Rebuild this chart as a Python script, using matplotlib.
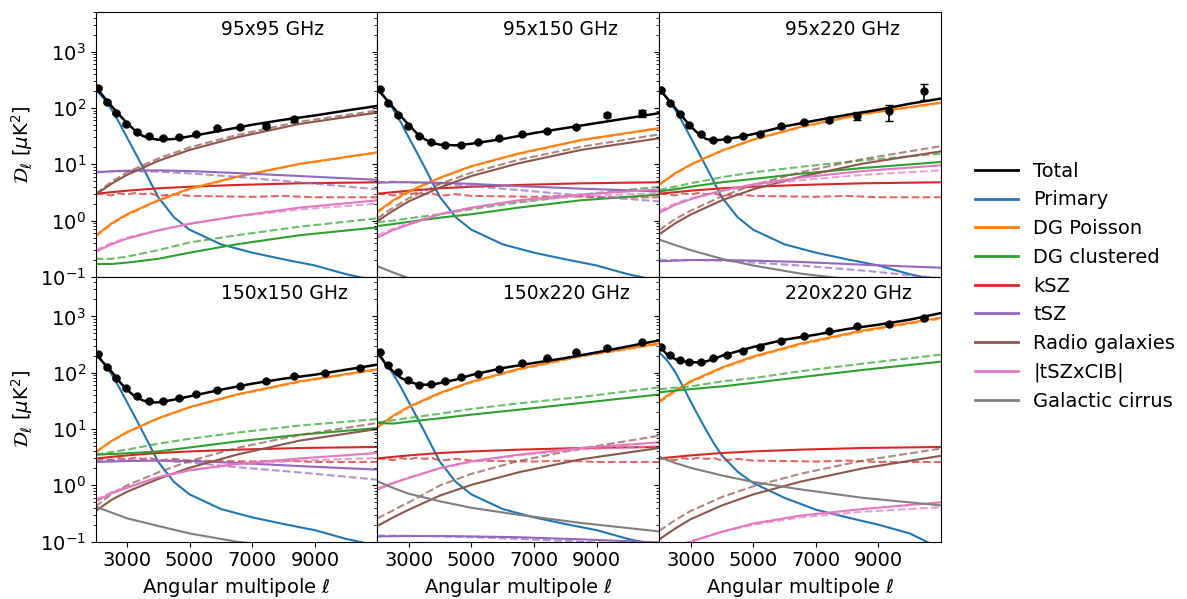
import matplotlib.pyplot as plt

# multipole grids the curves were read on
ell_fine = [2000, 2250, 2500, 2750, 3000, 3250, 3500, 3750, 4000, 4500, 5000,
            6000, 7000, 8000, 9000, 10000, 11000]
ell_model = [2000, 2500, 3000, 4000, 5000, 6500, 8500, 11000]
ell_bins = [2070, 2350, 2650, 2960, 3330, 3710, 4160, 4670, 5220, 5890,
            6620, 7430, 8330, 9330, 10450]

# components shared by the spectra (CMB units)
primary = [210, 150, 95, 55, 30, 16.5, 9.0, 4.8, 2.6, 1.15, 0.69,
           0.38, 0.27, 0.206, 0.16, 0.112, 0.085]
primary_220x220 = [230, 165, 105, 58, 31, 17, 9.5, 5.5, 3.4, 1.75, 1.1,
                   0.6, 0.37, 0.27, 0.2, 0.14, 0.075]
ksz = [3.0, 3.2, 3.4, 3.75, 4.0, 4.3, 4.6, 4.8]
ksz_alt = [3.0, 2.95, 2.8, 3.05, 2.9, 3.1, 2.95, 3.05, 2.75, 2.95, 2.75,
           2.7, 2.65, 2.75, 2.6, 2.6, 2.6]

# ---- 95x95 ----
total_95x95 = [234, 160, 109, 76, 54, 40, 32, 28.8, 27.3, 28.1, 31.3,
               39.5, 50.4, 61.7, 73.6, 90, 109]
data_95x95 = [224, 130, 81, 52.5, 36.8, 31.3, 28.9, 30.5, 34.9, 43.4, 45.2, 48.3, 63.4]
err_95x95 = [8, 5, 3, 2, 1.5, 1.2, 1.2, 1.3, 1.5, 2, 2.5, 4, 6]
poisson_95x95 = [0.54, 0.89, 1.3, 2.3, 3.7, 6.0, 10.2, 16.3]
poisson_95x95_alt = [0.52, 0.86, 1.25, 2.25, 3.6, 5.9, 10.0, 16.0]
clust_95x95 = [0.17, 0.17, 0.18, 0.21, 0.27, 0.38, 0.55, 0.76]
clust_95x95_alt = [0.21, 0.21, 0.23, 0.30, 0.41, 0.55, 0.78, 1.1]
tsz_95x95 = [7.2, 7.5, 7.7, 7.8, 7.6, 7.0, 6.2, 5.3]
tsz_95x95_alt = [7.3, 7.5, 7.6, 7.4, 6.9, 6.0, 4.8, 3.6]
radio_95x95 = [2.9, 4.5, 6.5, 11.5, 18, 30, 52, 83]
radio_95x95_alt = [3.0, 4.9, 7.2, 12.7, 20, 33, 57, 90]
cib_95x95 = [0.28, 0.38, 0.48, 0.67, 0.88, 1.2, 1.7, 2.3]
cib_95x95_alt = [0.3, 0.4, 0.5, 0.68, 0.88, 1.18, 1.58, 2.0]

# ---- 95x150 ----
total_95x150 = [224, 149, 103, 70.8, 50.4, 35.9, 28.1, 23.9, 22.3, 21.7, 23.2,
                28.1, 35.9, 44, 54, 66, 81]
data_95x150 = [215, 122, 75.7, 47.1, 32.2, 24.5, 22.3, 22.3, 24.8, 28.8,
               34.9, 39.5, 45.8, 75.7, 81]
err_95x150 = [8, 4, 2.5, 1.5, 1, 0.8, 0.7, 0.7, 0.8, 1, 1.3, 1.7, 2.5, 6, 12]
poisson_95x150 = [1.45, 2.3, 3.3, 5.8, 9.3, 15.5, 27, 44]
poisson_95x150_alt = [1.4, 2.2, 3.2, 5.7, 9.1, 15.2, 26.5, 43]
clust_95x150 = [0.8, 0.87, 0.95, 1.13, 1.3, 1.7, 2.3, 2.9]
clust_95x150_alt = [0.94, 1.0, 1.1, 1.3, 1.6, 2.1, 2.9, 4.0]
tsz_95x150 = [4.7, 4.8, 4.8, 4.7, 4.5, 4.1, 3.7, 3.3]
tsz_95x150_alt = [4.9, 4.9, 4.8, 4.5, 4.1, 3.5, 2.8, 2.2]
radio_95x150 = [0.98, 1.5, 2.2, 3.9, 6.2, 10.4, 18, 29]
radio_95x150_alt = [1.1, 1.7, 2.5, 4.5, 7.1, 12, 20.5, 34]
cib_95x150 = [0.5, 0.68, 0.85, 1.3, 1.7, 2.3, 2.9, 3.6]
cib_95x150_alt = [0.55, 0.72, 0.9, 1.32, 1.7, 2.2, 2.7, 3.1]
cirrus_95x150 = [0.155, 0.12, 0.095, 0.065, 0.05, 0.035, 0.025, 0.02]

# ---- 95x220 ----
total_95x220 = [224, 149, 101, 68.9, 47.1, 34.9, 28.1, 26.6, 27.3, 30.1, 34.4,
                47.1, 60.1, 75.7, 93, 119, 147]
data_95x220 = [210, 122, 78.9, 50.4, 34.4, 27.3, 28.1, 31.3, 34.9, 47.1,
               55.4, 61.7, 72.6, 86.7, 204]
err_95x220 = [8, 4, 2.5, 1.8, 1.2, 1, 1, 1.2, 1.5, 2.5, 4, 5.5, 12.5, 28, 64]
poisson_95x220 = [4.4, 6.9, 9.9, 17.6, 27.5, 46, 79, 125]
poisson_95x220_alt = [4.3, 6.7, 9.7, 17.2, 27, 45, 77, 122]
clust_95x220 = [3.3, 3.6, 4.0, 4.8, 5.5, 6.8, 8.6, 11]
clust_95x220_alt = [3.5, 4.0, 4.6, 5.9, 7.2, 9.0, 11.8, 15.5]
tsz_95x220 = [0.19, 0.195, 0.2, 0.2, 0.195, 0.185, 0.165, 0.146]
tsz_95x220_alt = [0.2, 0.2, 0.2, 0.195, 0.18, 0.16, 0.13, 0.095]
radio_95x220 = [0.57, 0.89, 1.28, 2.3, 3.6, 6.0, 10.3, 17]
radio_95x220_alt = [0.68, 1.06, 1.5, 2.7, 4.3, 7.2, 12.4, 21]
cib_95x220 = [1.38, 1.9, 2.4, 3.4, 4.4, 5.8, 7.6, 9.6]
cib_95x220_alt = [1.5, 2.0, 2.5, 3.4, 4.2, 5.2, 6.5, 7.8]
cirrus_95x220 = [0.46, 0.37, 0.3, 0.21, 0.16, 0.115, 0.085, 0.06]

# ---- 150x150 ----
total_150x150 = [223, 149, 106, 70.2, 49.9, 38, 32.3, 29.7, 29.7, 33.2, 38,
                 49.9, 63.8, 78.2, 92.1, 113, 139]
data_150x150 = [217, 126, 80.4, 53.5, 38, 31.8, 31.8, 35.5, 42.3, 48.6,
                57.1, 70.2, 88.4, 98.6, 121]
err_150x150 = [6, 3, 2, 1.3, 0.9, 0.7, 0.7, 0.8, 1, 1.2, 1.5, 2, 2.5, 3.5, 5]
poisson_150x150 = [3.9, 6.1, 8.8, 15.6, 24.5, 41, 70, 115]
poisson_150x150_alt = [3.8, 6.0, 8.6, 15.3, 24, 40, 68, 112]
clust_150x150 = [3.5, 3.6, 3.7, 4.0, 4.7, 6.0, 7.9, 10.4]
clust_150x150_alt = [3.5, 3.9, 4.3, 5.5, 6.7, 8.6, 11.5, 15]
tsz_150x150 = [2.6, 2.65, 2.7, 2.75, 2.7, 2.5, 2.2, 1.9]
tsz_150x150_alt = [2.75, 2.8, 2.8, 2.75, 2.55, 2.1, 1.7, 1.26]
radio_150x150 = [0.35, 0.55, 0.77, 1.3, 2.05, 3.5, 6.2, 10]
radio_150x150_alt = [0.42, 0.7, 1.0, 1.7, 2.7, 4.6, 7.8, 12.8]
cib_150x150 = [0.52, 0.72, 0.9, 1.4, 1.85, 2.4, 3.0, 3.75]
cib_150x150_alt = [0.56, 0.75, 0.93, 1.4, 1.85, 2.35, 2.75, 3.05]
cirrus_150x150 = [0.42, 0.33, 0.26, 0.19, 0.14, 0.1, 0.075, 0.055]

# ---- 150x220 ----
total_150x220 = [239, 144, 106, 80.4, 70.2, 62.9, 61.2, 61.2, 65.6, 75.2, 91,
                 121, 149, 182, 229, 293, 375]
data_150x220 = [229, 139, 101, 75.2, 61.2, 62.9, 72.1, 82.6, 96, 116,
                149, 182, 229, 274, 345]
err_150x220 = [6, 3, 2, 1.5, 1.2, 1.2, 1.4, 1.6, 2, 2.5, 3, 4, 5, 7, 10]
poisson_150x220 = [11, 17.2, 24.8, 44, 69, 116, 199, 330]
poisson_150x220_alt = [10.6, 16.6, 24, 42.5, 67, 112, 193, 320]
clust_150x220 = [12.8, 12.5, 13.5, 15.5, 18, 22, 29, 41]
clust_150x220_alt = [13.1, 14.3, 15.7, 18.7, 22.7, 28.5, 37, 55]
tsz_150x220 = [0.124, 0.125, 0.126, 0.126, 0.124, 0.12, 0.11, 0.097]
tsz_150x220_alt = [0.128, 0.128, 0.127, 0.124, 0.12, 0.112, 0.1, 0.085]
radio_150x220 = [0.19, 0.27, 0.37, 0.66, 1.02, 1.7, 2.9, 4.6]
radio_150x220_alt = [0.26, 0.36, 0.5, 1.0, 1.6, 2.7, 4.5, 7.6]
cib_150x220 = [0.84, 1.1, 1.35, 2.03, 2.67, 3.5, 4.6, 5.8]
cib_150x220_alt = [0.88, 1.1, 1.38, 2.0, 2.6, 3.4, 4.3, 5.0]
cirrus_150x220 = [1.18, 0.9, 0.71, 0.52, 0.40, 0.30, 0.215, 0.152]

# ---- 220x220 ----
total_220x220 = [301, 209, 175, 159, 153, 153, 159, 175, 200, 239, 286,
                 385, 473, 596, 711, 873, 1146]
data_220x220 = [286, 209, 170, 155, 155, 182, 203, 246, 286, 360,
                442, 542, 664, 731, 934]
err_220x220 = [8, 5, 4, 3.5, 3.5, 4, 4.5, 5, 6, 8, 10, 12, 15, 18, 25]
poisson_220x220 = [31, 48, 70, 124, 194, 327, 560, 950]
poisson_220x220_alt = [29.5, 46, 67, 119, 186, 314, 538, 910]
clust_220x220 = [44.8, 48, 51, 57, 66, 83, 112, 157]
clust_220x220_alt = [51, 54, 57, 70, 80, 106, 145, 209]
radio_220x220 = [0.11, 0.17, 0.25, 0.44, 0.69, 1.16, 2.0, 3.35]
radio_220x220_alt = [0.155, 0.24, 0.35, 0.62, 0.96, 1.6, 2.75, 4.5]
cib_220x220 = [0.07, 0.085, 0.1, 0.15, 0.21, 0.29, 0.38, 0.5]
cib_220x220_alt = [0.07, 0.085, 0.1, 0.15, 0.2, 0.27, 0.34, 0.41]
cirrus_220x220 = [3.2, 2.5, 2.05, 1.5, 1.15, 0.85, 0.6, 0.44]

labels = ["Total", "Primary", "DG Poisson", "DG clustered", "kSZ", "tSZ",
          "Radio galaxies", "|tSZxCIB|", "Galactic cirrus"]
colors = ["black", "C0", "C1", "C2", "C3", "C4", "C5", "C6", "C7"]

panels = [
    ("95x95 GHz", primary, total_95x95, data_95x95, err_95x95,
     [(poisson_95x95, poisson_95x95_alt, "C1"), (clust_95x95, clust_95x95_alt, "C2"),
      (tsz_95x95, tsz_95x95_alt, "C4"), (radio_95x95, radio_95x95_alt, "C5"),
      (cib_95x95, cib_95x95_alt, "C6")]),
    ("95x150 GHz", primary, total_95x150, data_95x150, err_95x150,
     [(poisson_95x150, poisson_95x150_alt, "C1"), (clust_95x150, clust_95x150_alt, "C2"),
      (tsz_95x150, tsz_95x150_alt, "C4"), (radio_95x150, radio_95x150_alt, "C5"),
      (cib_95x150, cib_95x150_alt, "C6"), (cirrus_95x150, None, "C7")]),
    ("95x220 GHz", primary, total_95x220, data_95x220, err_95x220,
     [(poisson_95x220, poisson_95x220_alt, "C1"), (clust_95x220, clust_95x220_alt, "C2"),
      (tsz_95x220, tsz_95x220_alt, "C4"), (radio_95x220, radio_95x220_alt, "C5"),
      (cib_95x220, cib_95x220_alt, "C6"), (cirrus_95x220, None, "C7")]),
    ("150x150 GHz", primary, total_150x150, data_150x150, err_150x150,
     [(poisson_150x150, poisson_150x150_alt, "C1"), (clust_150x150, clust_150x150_alt, "C2"),
      (tsz_150x150, tsz_150x150_alt, "C4"), (radio_150x150, radio_150x150_alt, "C5"),
      (cib_150x150, cib_150x150_alt, "C6"), (cirrus_150x150, None, "C7")]),
    ("150x220 GHz", primary, total_150x220, data_150x220, err_150x220,
     [(poisson_150x220, poisson_150x220_alt, "C1"), (clust_150x220, clust_150x220_alt, "C2"),
      (tsz_150x220, tsz_150x220_alt, "C4"), (radio_150x220, radio_150x220_alt, "C5"),
      (cib_150x220, cib_150x220_alt, "C6"), (cirrus_150x220, None, "C7")]),
    ("220x220 GHz", primary_220x220, total_220x220, data_220x220, err_220x220,
     [(poisson_220x220, poisson_220x220_alt, "C1"), (clust_220x220, clust_220x220_alt, "C2"),
      (radio_220x220, radio_220x220_alt, "C5"), (cib_220x220, cib_220x220_alt, "C6"),
      (cirrus_220x220, None, "C7")]),
]

plt.rcParams["font.size"] = 14

fig, axes = plt.subplots(2, 3, figsize=(11.87, 5.99), dpi=100, sharex=True, sharey=True)
fig.subplots_adjust(left=0.0806, right=0.7928, top=0.9795, bottom=0.0957,
                    wspace=0, hspace=0)

for ax, (title, prim, total, data, err, comps) in zip(axes.flat, panels):
    # components: solid = baseline fit, dashed = alternative fit
    ax.plot(ell_fine, prim, color="C0", lw=1.5)
    ax.plot(ell_model, ksz, color="C3", lw=1.5)
    ax.plot(ell_fine, ksz_alt, color="C3", lw=1.5, ls="--", alpha=0.7)
    for vals, alt, c in comps:
        ax.plot(ell_model, vals, color=c, lw=1.5)
        if alt is not None:
            ax.plot(ell_model, alt, color=c, lw=1.5, ls="--", alpha=0.7)
    ax.plot(ell_fine, total, color="black", lw=1.8)
    ax.errorbar(ell_bins[:len(data)], data, yerr=err, fmt="o", color="black",
                ms=5, capsize=3, elinewidth=1.2)
    ax.text(6000, 2000, title, fontsize=13.5)
    ax.set_yscale("log")
    ax.set_xlim(2000, 11000)
    ax.set_ylim(0.1, 5000)
    ax.set_xticks([3000, 5000, 7000, 9000])

for ax in axes[0]:
    ax.tick_params(axis="x", bottom=False)
for ax in axes[1]:
    ax.set_xlabel(r"Angular multipole $\ell$")
for ax in axes[:, 0]:
    ax.set_ylabel(r"$\mathcal{D}_\ell$ [$\mu$K$^2$]")

handles = [plt.Line2D([], [], color=c, lw=2) for c in colors]
fig.legend(handles, labels, loc="center left", bbox_to_anchor=(0.8147, 0.522),
           frameon=False, borderaxespad=0, handlelength=2.2)

fig.savefig("out.png", dpi=100)
